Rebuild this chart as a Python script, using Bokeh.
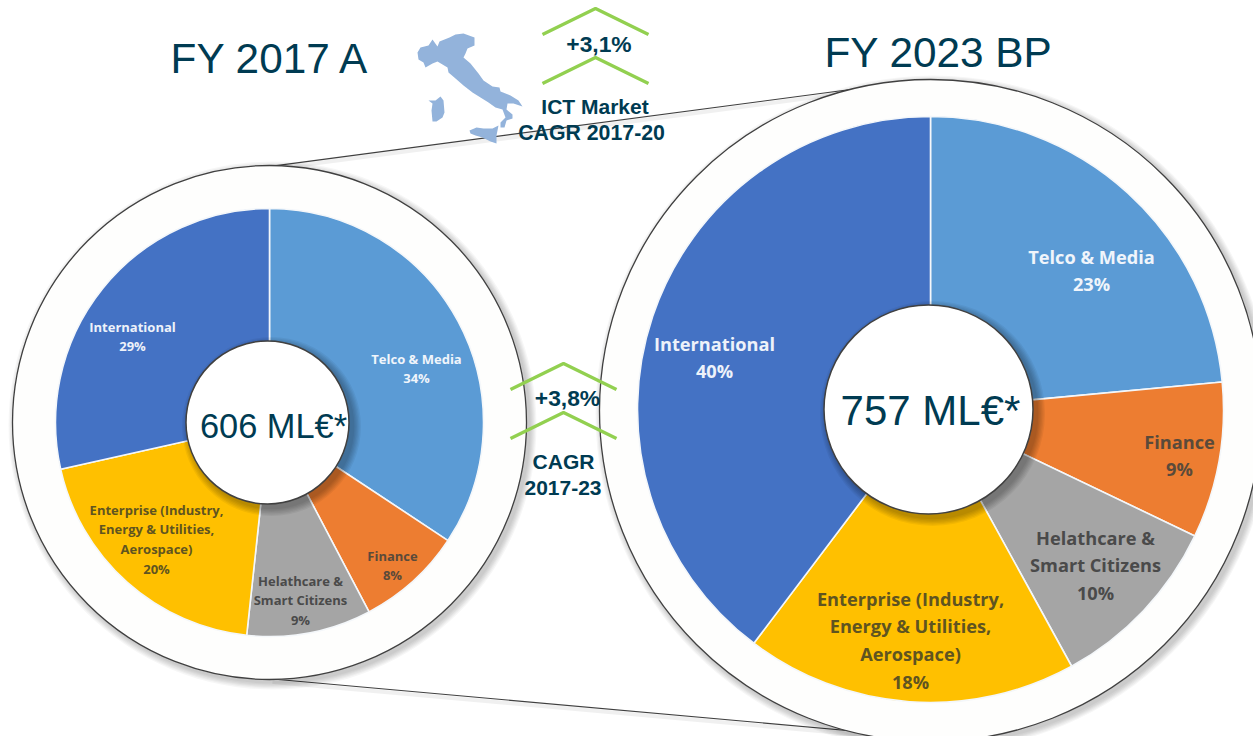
import math
from bokeh.plotting import figure
from bokeh.models import ColumnDataSource
from bokeh.core.properties import value
from bokeh.embed import file_html
from bokeh.resources import INLINE

segments = ["Telco & Media", "Finance", "Healthcare", "Enterprise", "International"]
colors = ["#5B9BD5", "#ED7D31", "#A5A5A5", "#FFC000", "#4472C4"]
shares_2017 = [34.3, 8.0, 9.4, 19.8, 28.5]
shares_2023 = [23.5, 8.6, 9.9, 18.3, 39.7]
labels_2017 = ["Telco & Media\n34%", "Finance\n8%", "Helathcare &\nSmart Citizens\n9%",
               "Enterprise (Industry,\nEnergy & Utilities,\nAerospace)\n20%", "International\n29%"]
labels_2023 = ["Telco & Media\n23%", "Finance\n9%", "Helathcare &\nSmart Citizens\n10%",
               "Enterprise (Industry,\nEnergy & Utilities,\nAerospace)\n18%", "International\n40%"]

W, H = 1253, 736
TEAL = "#003B52"
GREEN = "#92D050"
MAP = "#93B3DB"
p = figure(width=W, height=H, x_range=(0, W), y_range=(0, H),
           output_backend="svg", toolbar_location=None, min_border=0,
           outline_line_color=None, background_fill_color="white", border_fill_color="white")
p.axis.visible = False
p.grid.visible = False
Y = lambda y: H - y


def shadow(cx, cy, r, dx, dy, spread, steps=6, a=0.035):
    for i in range(steps):
        p.circle(cx + dx, Y(cy + dy), radius=r + spread * (1 - i / steps), fill_color="#000000",
                 fill_alpha=a, line_color=None)


def donut(cx, cy, r_out, r_pie, pcy, icx, icy, r_in, shares, labels, lab_xy, size):
    shadow(cx, cy, r_out, 3, 3, 7, a=0.035)
    p.circle(cx, Y(cy), radius=r_out, fill_color="#FEFEFD", line_color="#404040", line_width=1.3)
    edges = [0.0]
    for s in shares:
        edges.append(edges[-1] + s)
    total = edges[-1]
    start = [math.pi / 2 - 2 * math.pi * e / total for e in edges[:-1]]
    end = [math.pi / 2 - 2 * math.pi * e / total for e in edges[1:]]
    src = ColumnDataSource(dict(s=start, e=end, c=colors))
    p.wedge(x=cx, y=Y(pcy), radius=r_pie, start_angle="s", end_angle="e", direction="clock",
            fill_color="c", line_color="#F4F7FA", line_width=1.6, source=src)
    shadow(icx, icy, r_in, 4, 4, 8, a=0.05)
    p.circle(icx, Y(icy), radius=r_in, fill_color="white", line_color="#404040", line_width=1.5)
    for lab, (lx, ly), c in zip(labels, lab_xy, ["#F0F5FB", "#5A4A3A", "#4A4A4A", "#5F5420", "#EEF2FA"]):
        for k, t in enumerate(lab.split("\n")):
            p.text([lx], [Y(ly + k * size * 1.53)], text=[t], text_font=value("Open Sans"),
                   text_font_size=f"{size}px", text_font_style="bold", text_color=c,
                   text_align="center", text_baseline="middle")


# connector lines between the two circles
for xs, ys in (([272, 850], [165.6, 89]), ([272, 880], [678.5, 733])):
    p.line(xs, [Y(v + 3) for v in ys], line_color="#000000", line_alpha=0.06, line_width=4)
    p.line(xs, [Y(v) for v in ys], line_color="#404040", line_width=1.1)

donut(269, 422, 257, 214, 422, 267, 422, 81.5, shares_2017, labels_2017,
      [(416, 358), (392, 555), (300, 580), (156, 509), (132, 326)], 13)
donut(930, 410, 331, 293, 409, 928, 409, 104.5, shares_2023, labels_2023,
      [(1091, 256), (1179, 441), (1095, 537), (910, 598), (714, 343)], 18.2)

# Italy outline
italy_x = [417, 420, 428, 432, 437, 439, 449, 455, 463, 474, 474, 467, 465, 463, 470, 478, 483, 492, 499, 500,
           510, 518, 522, 513, 507, 506, 512, 512, 506, 504, 500, 500, 505, 502, 495, 488, 480, 472, 463, 455, 448, 447,
           437, 432, 425, 423, 418]
italy_y = [52, 47, 45, 39, 46, 41, 37, 34, 33, 37, 45, 48, 53, 57, 63, 73, 80, 86, 87, 91,
           95, 100, 106, 103, 103, 109, 114, 118, 120, 127, 127, 122, 117, 109, 107, 102, 97, 92, 85, 78, 72, 67,
           61, 63, 67, 62, 59]
p.patch(italy_x, [Y(v) for v in italy_y], fill_color=MAP, line_color=None)
sard_x = [428, 435, 440, 443, 444, 442, 436, 432, 431, 432]
sard_y = [100, 100, 96, 100, 112, 117, 121, 121, 110, 103]
p.patch(sard_x, [Y(v) for v in sard_y], fill_color=MAP, line_color=None)
sic_x = [469, 476, 483, 492, 498, 496, 496, 490, 482, 475, 470]
sic_y = [130, 127, 128, 128, 125, 135, 143, 141, 137, 135, 133]
p.patch(sic_x, [Y(v) for v in sic_y], fill_color=MAP, line_color=None)

# chevrons
for cx, top in ((595, 8), (595, 57), (563, 363), (563, 412)):
    p.line([cx - 53, cx, cx + 53], [Y(top + 26), Y(top), Y(top + 26)], line_color=GREEN, line_width=3.4)


def txt(x, y, t, size, bold=False):
    p.text([x], [Y(y)], text=[t], text_font=value("Liberation Sans"), text_font_size=f"{size}px",
           text_font_style="bold" if bold else "normal", text_color=TEAL, text_align="center",
           text_baseline="middle")


txt(270, 58, "FY 2017 A", 42.3)
txt(938, 52, "FY 2023 BP", 42.3)
txt(598.5, 43, "+3,1%", 22.8, True)
txt(594.5, 106, "ICT Market", 21, True)
txt(594, 132, "CAGR  2017-20", 21.3, True)
txt(567, 397, "+3,8%", 22.8, True)
txt(563, 461, "CAGR", 21, True)
txt(562.5, 487, "2017-23", 21, True)
txt(273, 425, "606 ML€*", 34.4)
txt(930, 410, "757 ML€*", 42)

html = file_html(p, INLINE).replace("<head>", "<head><style>html,body{margin:0;padding:0}</style>", 1)
open("out.html", "w").write(html)
